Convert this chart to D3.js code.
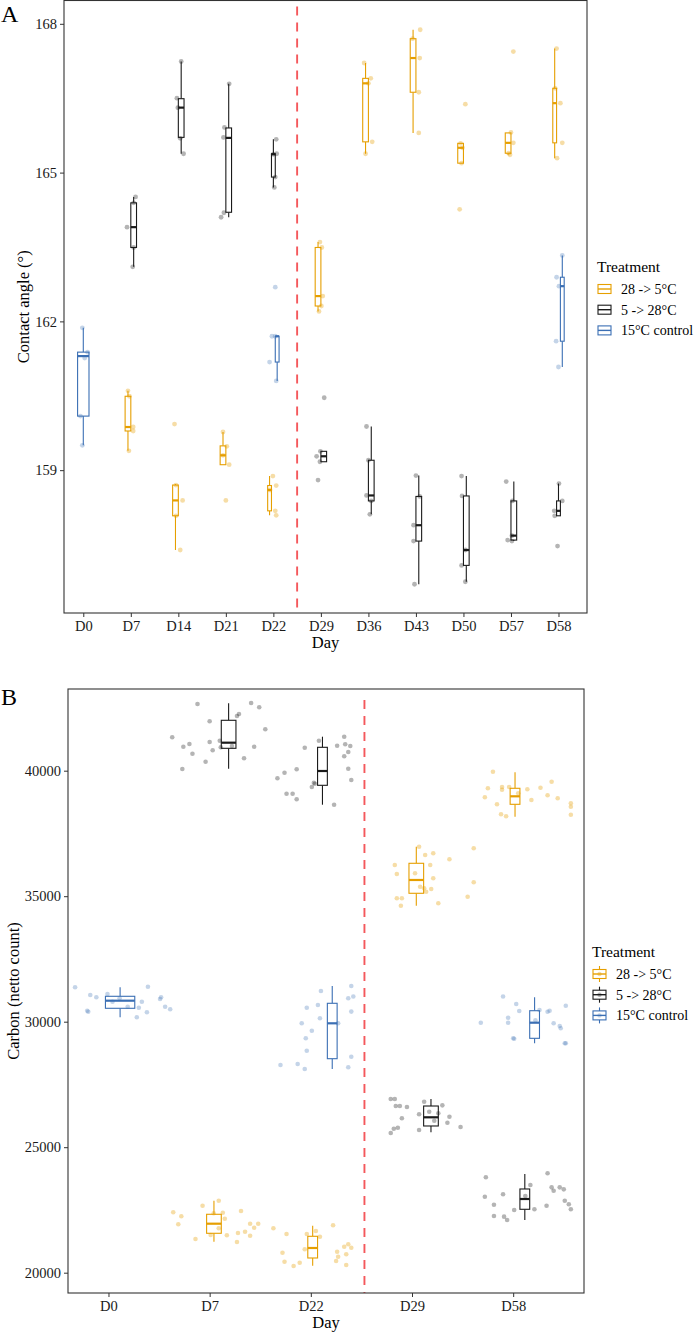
<!DOCTYPE html>
<html>
<head>
<meta charset="utf-8">
<script src="https://d3js.org/d3.v7.min.js"></script>
<style>
  body { margin: 0; background: #fff; }
  svg, svg text { font-family: "Liberation Serif", "Times New Roman", serif; }
</style>
</head>
<body>
<svg id="chart" width="697" height="1333"></svg>
<script>
const treatments = ["28 -> 5°C", "5 -> 28°C", "15°C control"];
const colors = ["#E69F00", "#1a1a1a", "#3B6FB4"];

// ---- panel A : contact angle ----
const daysA = ["D0", "D7", "D14", "D21", "D22", "D29", "D36", "D43", "D50", "D57", "D58"];
const ticksA = [159, 162, 165, 168];
// [day, treatment, lower whisker, q1, median, q3, upper whisker]
const boxesA = [
  ["D0", 2, 159.50, 160.09, 161.30, 161.38, 161.87],
  ["D7", 0, 159.39, 159.79, 159.87, 160.49, 160.60],
  ["D7", 1, 163.10, 163.49, 163.90, 164.39, 164.51],
  ["D14", 0, 157.39, 158.08, 158.39, 158.70, 158.72],
  ["D14", 1, 165.38, 165.71, 166.31, 166.49, 167.24],
  ["D21", 0, 159.11, 159.11, 159.30, 159.49, 159.77],
  ["D21", 1, 164.10, 164.20, 165.70, 165.90, 166.79],
  ["D22", 0, 158.09, 158.18, 158.60, 158.69, 158.88],
  ["D22", 1, 164.70, 164.91, 165.37, 165.38, 165.67],
  ["D22", 2, 160.80, 161.18, 161.70, 161.70, 161.70],
  ["D29", 0, 162.20, 162.31, 162.51, 163.49, 163.60],
  ["D29", 1, 159.17, 159.17, 159.28, 159.38, 159.38],
  ["D36", 0, 165.38, 165.62, 166.80, 166.90, 167.21],
  ["D36", 1, 158.11, 158.38, 158.49, 159.20, 159.88],
  ["D43", 0, 165.80, 166.62, 167.31, 167.70, 167.88],
  ["D43", 1, 156.70, 157.57, 157.89, 158.47, 158.89],
  ["D50", 0, 165.19, 165.19, 165.50, 165.59, 165.59],
  ["D50", 1, 156.75, 157.08, 157.39, 158.48, 158.88],
  ["D57", 0, 165.36, 165.39, 165.60, 165.80, 165.80],
  ["D57", 1, 157.57, 157.59, 157.68, 158.38, 158.77],
  ["D58", 0, 165.29, 165.60, 166.40, 166.70, 167.50],
  ["D58", 1, 158.08, 158.08, 158.18, 158.38, 158.73],
  ["D58", 2, 161.08, 161.60, 162.71, 162.89, 163.33]
];
// [day, treatment, jitter (day units), values]
const pointsA = [
  ["D0", 2, [-0.02, 0.09, 0.03, -0.06, -0.02], [161.87, 161.38, 161.26, 160.09, 159.50]],
  ["D7", 0, [-0.06, -0.03, 0.05, 0.05, -0.04], [160.60, 160.49, 159.87, 159.79, 159.39]],
  ["D7", 1, [0.10, 0.06, -0.08, 0.06, 0.04], [164.51, 164.39, 163.90, 163.49, 163.10]],
  ["D14", 0, [-0.08, -0.05, 0.09, -0.05, 0.04], [159.93, 158.70, 158.39, 158.08, 157.39]],
  ["D14", 1, [0.06, -0.03, -0.01, 0.04, 0.11], [167.24, 166.50, 166.31, 165.69, 165.38]],
  ["D21", 0, [-0.06, 0.02, -0.06, 0.07, 0], [159.77, 159.48, 159.30, 159.11, 158.39]],
  ["D21", 1, [0.07, -0.03, -0.05, -0.04, -0.10], [166.79, 165.91, 165.71, 164.19, 164.10]],
  ["D22", 0, [-0.01, 0.06, -0.07, 0.04, 0.06], [158.88, 158.69, 158.60, 158.18, 158.09]],
  ["D22", 1, [0.06, 0.07, 0, 0.04, 0.02], [165.67, 165.38, 165.37, 164.91, 164.70]],
  ["D22", 2, [0.04, -0.03, 0.04, -0.08, 0.06], [162.69, 161.70, 161.70, 161.18, 160.80]],
  ["D29", 0, [-0.02, 0.02, 0.04, 0.01, -0.04], [163.60, 163.49, 162.51, 162.31, 162.20]],
  ["D29", 1, [0.07, -0.01, -0.09, -0.02, -0.06], [160.46, 159.38, 159.28, 159.17, 158.80]],
  ["D36", 0, [-0.09, 0.05, 0, 0.08, -0.06], [167.21, 166.90, 166.80, 165.62, 165.38]],
  ["D36", 1, [-0.04, 0, -0.04, 0.06, 0.03], [159.88, 159.20, 158.49, 158.38, 158.11]],
  ["D43", 0, [0.09, -0.07, 0.08, 0.06, 0.06], [167.88, 167.70, 167.31, 166.62, 165.80]],
  ["D43", 1, [0, 0.08, -0.05, -0.05, -0.03], [158.89, 158.47, 157.89, 157.57, 156.70]],
  ["D50", 0, [0.04, -0.06, -0.02, -0.04, -0.08], [166.38, 165.59, 165.50, 165.19, 164.26]],
  ["D50", 1, [-0.04, -0.03, 0.04, -0.04, 0.04], [158.88, 158.48, 157.39, 157.08, 156.75]],
  ["D57", 0, [0.05, 0, 0.05, -0.02, -0.05], [167.44, 165.81, 165.60, 165.36, 165.39]],
  ["D57", 1, [-0.10, 0.03, 0.02, -0.07, 0.02], [158.77, 158.38, 157.68, 157.59, 157.57]],
  ["D58", 0, [-0.04, -0.07, 0.04, 0.08, -0.03], [167.50, 166.70, 166.40, 165.60, 165.29]],
  ["D58", 1, [0.01, 0.08, -0.09, -0.08, -0.02], [158.73, 158.38, 158.18, 158.08, 157.47]],
  ["D58", 2, [0.08, -0.04, 0.01, -0.05, 0], [163.33, 162.89, 162.71, 161.60, 161.08]]
];

// ---- panel B : carbon ----
const daysB = ["D0", "D7", "D22", "D29", "D58"];
const ticksB = [20000, 25000, 30000, 35000, 40000];
const boxesB = [
  ["D0", 2, 30175, 30534, 30837, 31012, 31371],
  ["D7", 0, 21235, 21570, 21952, 22327, 22869],
  ["D7", 1, 40080, 40892, 41116, 42008, 42686],
  ["D22", 0, 20280, 20586, 20984, 21450, 21873],
  ["D22", 1, 38645, 39418, 39988, 40932, 41355],
  ["D22", 2, 28116, 28526, 29936, 30733, 31422],
  ["D29", 0, 34622, 35116, 35646, 36311, 36972],
  ["D29", 1, 25594, 25845, 26191, 26641, 26920],
  ["D58", 0, 38167, 38661, 38980, 39299, 39936],
  ["D58", 1, 22100, 22526, 22936, 23335, 23932],
  ["D58", 2, 29140, 29338, 29960, 30438, 30972]
];
const pointsB = [
  ["D0", 2,
    [-0.33, -0.21, -0.20, -0.18, -0.12, -0.01, 0.19, 0.28, 0.30, 0.33, 0.38, 0.39, 0.51, 0.52, 0.56, 0.61, 0.04, 0.11],
    [31371, 30438, 30398, 31064, 30972, 31104, 30598, 30175, 30558, 30797, 30374, 31395, 30905, 30972, 30598, 30494, 30797, 30932]],
  ["D7", 0,
    [-0.36, -0.31, -0.28, -0.14, -0.07, 0.09, 0.13, 0.15, 0.09, 0.17, 0.27, 0.28, 0.31, 0.35, 0.40, 0.40, 0.44, 0.48, 0.04, 0.01],
    [22406, 21928, 22247, 21343, 22670, 22869, 22391, 22152, 21769, 21490, 21223, 21582, 22458, 21634, 21474, 21952, 21793, 21952, 22367, 21502]],
  ["D7", 1,
    [-0.12, -0.37, -0.26, -0.20, -0.17, -0.04, -0.27, 0, 0, 0.03, 0.10, 0.11, 0.22, 0.27, 0.29, 0.34, 0.41, 0.49, 0.44, 0.55],
    [42657, 41331, 40956, 41064, 40677, 40359, 40068, 41968, 41143, 40813, 41195, 40932, 40984, 42179, 42259, 40494, 42697, 42526, 40956, 41649]],
  ["D22", 0,
    [-0.37, -0.28, -0.26, -0.24, -0.17, -0.11, -0.06, -0.04, 0.05, 0.09, 0.22, 0.25, 0.26, 0.27, 0.33, 0.35, 0.35, 0.37, 0.40],
    [21769, 20797, 20438, 21542, 20267, 20398, 20932, 21542, 21661, 21434, 21889, 20466, 20837, 20637, 21036, 20733, 20307, 21132, 20996]],
  ["D22", 1,
    [-0.33, -0.26, -0.24, -0.18, -0.14, -0.14, -0.06, 0.01, 0.03, 0.04, 0.08, 0.23, 0.26, 0.33, 0.34, 0.33, 0.37, 0.39, 0.37, 0.40],
    [39697, 39920, 39084, 39084, 38861, 40056, 40916, 39351, 39522, 39482, 41195, 38645, 40996, 41355, 41052, 40574, 40745, 40984, 40080, 39629]],
  ["D22", 2,
    [-0.30, -0.13, -0.06, -0.09, -0.05, 0.01, -0.04, -0.04, 0.07, 0.09, 0.10, 0.27, 0.37, 0.40, 0.42, 0.40, 0.40, 0.37],
    [28275, 28315, 28116, 29936, 29338, 29641, 28845, 30558, 30665, 30135, 31223, 29936, 30932, 31422, 31004, 30402, 28606, 28183]],
  ["D29", 0,
    [-0.17, -0.15, -0.15, -0.10, -0.11, 0.07, 0.13, 0.21, 0.18, 0.21, 0.19, 0.14, 0.12, 0.26, 0.37, 0.61, 0.61, 0.55, 0.03, 0.08],
    [36243, 35885, 34916, 34916, 34622, 36972, 36641, 36709, 36243, 35713, 35287, 35180, 35315, 34717, 36470, 36908, 35554, 34980, 35912, 35378]],
  ["D29", 1,
    [-0.21, -0.17, -0.16, -0.12, -0.05, -0.10, -0.14, -0.18, -0.21, 0.07, 0.07, 0.12, 0.22, 0.30, 0.37, 0.35, 0.48, 0.17, 0.26],
    [26920, 26920, 26641, 26641, 26602, 26152, 25777, 25737, 25566, 26311, 25685, 26813, 26056, 26667, 26215, 25976, 25805, 26415, 26350]],
  ["D58", 0,
    [-0.20, -0.25, -0.28, -0.16, -0.12, -0.07, -0.11, -0.11, -0.04, 0.14, 0.18, 0.27, 0.38, 0.34, 0.44, 0.57, 0.57, 0.57, 0.05],
    [39960, 39299, 38940, 38661, 38263, 38183, 39350, 39243, 39350, 39259, 38833, 39323, 39562, 39020, 38900, 38701, 38566, 38247, 39100]],
  ["D58", 1,
    [-0.27, -0.28, -0.19, -0.19, -0.10, -0.09, -0.06, 0.01, 0.12, 0.17, 0.21, 0.34, 0.33, 0.38, 0.40, 0.46, 0.50, 0.51, 0.55, 0.57],
    [23801, 23028, 22709, 22260, 23124, 22233, 22100, 22498, 23055, 23494, 22526, 23960, 22669, 23401, 23267, 23401, 23321, 22869, 22725, 22526]],
  ["D58", 2,
    [-0.32, -0.10, -0.05, -0.05, 0, 0.01, 0.03, 0.06, 0.26, 0.34, 0.36, 0.40, 0.46, 0.47, 0.51, 0.52, 0.52, 0.22],
    [29960, 31004, 30159, 29960, 29338, 29323, 30705, 30426, 30466, 30398, 30438, 29936, 29829, 29737, 29140, 29140, 30637, 30055]]
];

const svg = d3.select("#chart");
const FONT = "'Liberation Serif', 'Times New Roman', serif";

function drawPanel(o) {
  const g = svg.append("g");
  const x = d3.scaleLinear().domain(o.xDomain).range([o.left, o.right]);
  const y = d3.scaleLinear().domain(o.yDomain).range([o.bottom, o.top]);
  const byDay = d3.group(o.boxes, d => d[0]);

  // dodge position of a box (in day units)
  function slot(day, trt) {
    const present = byDay.get(day).map(d => d[1]).sort();
    const w = o.dodge / present.length;
    const k = present.indexOf(trt);
    return { c: o.days.indexOf(day) + o.shift - o.dodge / 2 + w * (k + 0.5), w };
  }

  // split line
  g.append("line")
    .attr("x1", x(o.split)).attr("x2", x(o.split))
    .attr("y1", o.top + o.dashStart).attr("y2", o.bottom)
    .attr("stroke", "#F4585C").attr("stroke-width", 1.9)
    .attr("stroke-dasharray", "9,7");

  // boxes
  const bx = g.append("g").selectAll("g").data(o.boxes).join("g");
  bx.each(function (d) {
    const s = slot(d[0], d[1]);
    const el = d3.select(this);
    const col = colors[d[1]];
    el.append("line").attr("x1", x(s.c)).attr("x2", x(s.c))
      .attr("y1", y(d[6])).attr("y2", y(d[5])).attr("stroke", col).attr("stroke-width", 1.1);
    el.append("line").attr("x1", x(s.c)).attr("x2", x(s.c))
      .attr("y1", y(d[3])).attr("y2", y(d[2])).attr("stroke", col).attr("stroke-width", 1.1);
    el.append("rect")
      .attr("x", x(s.c - s.w / 2)).attr("width", x(s.w) - x(0))
      .attr("y", y(d[5])).attr("height", Math.max(y(d[3]) - y(d[5]), 0.5))
      .attr("fill", "white").attr("stroke", col).attr("stroke-width", 1.1);
    el.append("line").attr("x1", x(s.c - s.w / 2)).attr("x2", x(s.c + s.w / 2))
      .attr("y1", y(d[4])).attr("y2", y(d[4])).attr("stroke", col).attr("stroke-width", 2.2);
  });

  // jittered points
  const pts = o.points.flatMap(p => p[3].map((v, i) => ({
    t: p[1], pos: o.days.indexOf(p[0]) + p[2][i], v
  })));
  g.append("g").selectAll("circle").data(pts).join("circle")
    .attr("cx", d => x(d.pos)).attr("cy", d => y(d.v)).attr("r", o.r)
    .attr("fill", d => colors[d.t]).attr("fill-opacity", d => o.alpha[d.t]);

  // axes
  const ax = g.append("g").attr("transform", `translate(${o.left},0)`)
    .call(d3.axisLeft(y).tickValues(o.ticks).tickFormat(d3.format("d")).tickSize(4).tickPadding(3));
  const bxAxis = g.append("g").attr("transform", `translate(0,${o.bottom})`)
    .call(d3.axisBottom(x).tickValues(d3.range(o.days.length)).tickFormat(i => o.days[i]).tickSize(4).tickPadding(4));
  [ax, bxAxis].forEach(a => {
    a.attr("font-family", FONT).attr("font-size", 14.5);
    a.select(".domain").remove();
    a.selectAll("line").attr("stroke", "#333");
    a.selectAll("text").attr("fill", "#1a1a1a");
  });

  g.append("rect")
    .attr("x", o.left).attr("y", o.top)
    .attr("width", o.right - o.left).attr("height", o.bottom - o.top)
    .attr("fill", "none").attr("stroke", "#333").attr("stroke-width", 1.1);

  // titles
  g.append("text").attr("x", (o.left + o.right) / 2).attr("y", o.bottom + 35)
    .attr("text-anchor", "middle").style("font-size", "16.5px").text("Day");
  g.append("text")
    .attr("transform", `translate(${o.yTitleX},${(o.top + o.bottom) / 2}) rotate(-90)`)
    .attr("text-anchor", "middle").style("font-size", "16.5px").text(o.yTitle);
  g.append("text").attr("x", 1).attr("y", o.letterY)
    .style("font-size", "24px").text(o.letter);

  // legend
  const lg = g.append("g").attr("transform", `translate(${o.legX},${o.legY})`);
  lg.append("text").attr("x", 0).attr("y", 0).style("font-size", "15.5px").text("Treatment");
  treatments.forEach((t, i) => {
    const cy = 17 + i * 20.7;
    const k = lg.append("g");
    if (o.keyPoints) {
      k.append("line").attr("x1", 7.5).attr("x2", 7.5).attr("y1", cy - 8).attr("y2", cy + 8)
        .attr("stroke", colors[i]).attr("stroke-width", 1.1);
    }
    k.append("rect").attr("x", 1).attr("y", cy - 4.5).attr("width", 13).attr("height", 9)
      .attr("fill", "white").attr("stroke", colors[i]).attr("stroke-width", 1.1);
    k.append("line").attr("x1", 1).attr("x2", 14).attr("y1", cy).attr("y2", cy)
      .attr("stroke", colors[i]).attr("stroke-width", 1.4);
    if (o.keyPoints) {
      k.append("circle").attr("cx", 7.5).attr("cy", cy).attr("r", 2.2)
        .attr("fill", colors[i]).attr("fill-opacity", o.alpha[i]);
    }
    lg.append("text").attr("x", 24).attr("y", cy + 5).style("font-size", "14px").text(t);
  });
}

drawPanel({
  days: daysA, boxes: boxesA, points: pointsA, ticks: ticksA,
  xDomain: [-0.406, 10.6], yDomain: [156.12, 168.47],
  left: 64, right: 587, top: 0.5, bottom: 613,
  dodge: 0.24, shift: 0, split: 4.5, dashStart: 6, r: 2.4,
  alpha: [0.35, 0.33, 0.3],
  yTitle: "Contact angle (°)", yTitleX: 29, letter: "A", letterY: 22,
  legX: 597, legY: 272, keyPoints: false
});

drawPanel({
  days: daysB, boxes: boxesB, points: pointsB, ticks: ticksB,
  xDomain: [-0.40, 4.70], yDomain: [19191, 43255],
  left: 68, right: 584, top: 689, bottom: 1293,
  dodge: 0.29, shift: 0.115, split: 2.53, dashStart: 11, r: 2.3,
  alpha: [0.35, 0.33, 0.3],
  yTitle: "Carbon (netto count)", yTitleX: 19, letter: "B", letterY: 705,
  legX: 592, legY: 957, keyPoints: true
});
</script>
</body>
</html>
